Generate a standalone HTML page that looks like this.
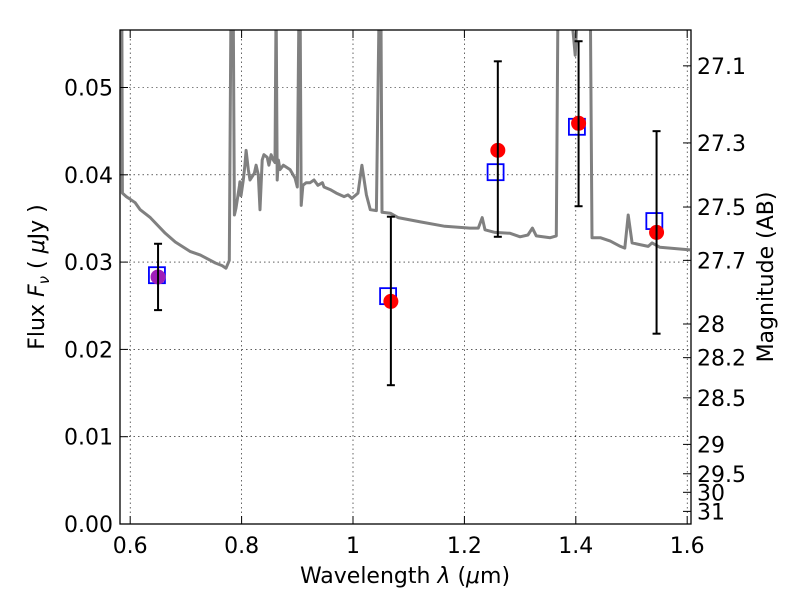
<!DOCTYPE html>
<html><head><meta charset="utf-8"><style>
body{margin:0;background:#fff;}
svg text{font-family:"DejaVu Sans","Liberation Sans",sans-serif;fill:#000;}
</style></head><body>
<svg id="chart" width="800" height="600" viewBox="0 0 800 600" xmlns="http://www.w3.org/2000/svg">
<defs><clipPath id="clip"><rect x="120" y="30" width="571" height="494"/></clipPath></defs>
<rect x="0" y="0" width="800" height="600" fill="#fff"/>
<g id="grid"></g>
<g id="spec" clip-path="url(#clip)"></g>
<g id="marks" clip-path="url(#clip)"></g>
<rect x="120" y="30" width="571" height="494" fill="none" stroke="#000" stroke-width="1.3"/>
<g id="axes"></g>
<text x="405" y="583" font-size="22" text-anchor="middle">Wavelength  <tspan font-style="italic">λ</tspan> (<tspan font-style="italic">μ</tspan>m)</text>
<text transform="translate(44,277) rotate(-90)" font-size="22" text-anchor="middle">Flux  <tspan font-style="italic">F</tspan><tspan font-style="italic" font-size="15" dy="5">ν</tspan><tspan dy="-5">  (  </tspan><tspan font-style="italic">μ</tspan>Jy )</text>
<text transform="translate(773,277) rotate(-90)" font-size="22" text-anchor="middle">Magnitude (AB)</text>
</svg>
<script>
const xTicks=[0.6,0.8,1.0,1.2,1.4,1.6];
const xTickLabels=["0.6","0.8","1","1.2","1.4","1.6"];
const yTicks=[0,0.01,0.02,0.03,0.04,0.05];
const yTickLabels=["0.00","0.01","0.02","0.03","0.04","0.05"];
const magTicks=[27.1,27.3,27.5,27.7,28,28.2,28.5,29,29.5,30,31];
const magTickLabels=["27.1","27.3","27.5","27.7","28","28.2","28.5","29","29.5","30","31"];
const specWave=[0.582,0.585,0.586,0.593,0.609,0.618,0.636,0.663,0.681,0.708,0.726,0.753,0.765,0.772,0.778,0.781,0.785,0.787,0.790,0.796,0.797,0.799,0.803,0.806,0.808,0.812,0.815,0.823,0.826,0.830,0.833,0.837,0.840,0.846,0.849,0.853,0.857,0.860,0.862,0.864,0.866,0.869,0.875,0.887,0.896,0.900,0.903,0.905,0.907,0.910,0.916,0.923,0.930,0.937,0.945,0.948,0.959,0.970,0.984,0.991,0.998,1.009,1.016,1.024,1.031,1.042,1.047,1.050,1.052,1.067,1.081,1.121,1.165,1.210,1.225,1.232,1.237,1.255,1.282,1.300,1.314,1.322,1.329,1.354,1.365,1.368,1.372,1.390,1.399,1.404,1.426,1.429,1.444,1.462,1.480,1.488,1.494,1.501,1.515,1.530,1.537,1.551,1.569,1.605];
const specFlux=[0.060,0.060,0.0379,0.0375,0.0368,0.0360,0.0351,0.0333,0.0323,0.0312,0.0308,0.0299,0.0296,0.0293,0.0302,0.060,0.060,0.0354,0.0362,0.0387,0.0392,0.0376,0.0394,0.0411,0.0428,0.0406,0.0394,0.0402,0.0411,0.0400,0.0360,0.0417,0.0423,0.0420,0.0411,0.0423,0.0417,0.0414,0.060,0.0394,0.0417,0.0406,0.0411,0.0406,0.0396,0.0386,0.060,0.060,0.0365,0.0388,0.0391,0.0391,0.0394,0.0388,0.0391,0.0386,0.0383,0.0379,0.0375,0.0377,0.0373,0.0379,0.0411,0.0377,0.0360,0.0359,0.060,0.060,0.0357,0.0356,0.0351,0.0346,0.0341,0.0339,0.0339,0.0351,0.0337,0.0334,0.0333,0.0329,0.0331,0.0339,0.0330,0.0328,0.0330,0.060,0.060,0.060,0.0537,0.060,0.060,0.0328,0.0328,0.0324,0.0318,0.0316,0.0354,0.0322,0.0320,0.0318,0.0322,0.0317,0.0316,0.0314];
const obsWave=[0.650,1.068,1.260,1.405,1.545];
const obsFlux=[0.0283,0.0255,0.0428,0.0459,0.0334];
const obsErrHi=[0.0321,0.0352,0.0530,0.0553,0.0450];
const obsErrLo=[0.0245,0.0159,0.0329,0.0364,0.0218];
const modelWave=[0.648,1.063,1.256,1.402,1.541];
const modelFlux=[0.0285,0.0261,0.0403,0.0455,0.0347];

const NS="http://www.w3.org/2000/svg";
const X0=130.2,XS=557,Y0=524,YS=8730;
const xs=w=>X0+(w-0.6)*XS;
const ys=f=>Y0-f*YS;
const magToFlux=m=>Math.pow(10,(23.9-m)/2.5);
function mk(tag,attrs,parent){const e=document.createElementNS(NS,tag);for(const k in attrs)e.setAttribute(k,attrs[k]);parent.appendChild(e);return e;}
const grid=document.getElementById('grid'),axes=document.getElementById('axes');
xTicks.forEach((t,i)=>{
  const x=xs(t);
  mk('line',{x1:x,x2:x,y1:30,y2:524,stroke:'#000','stroke-width':0.6,'stroke-dasharray':'1.5,3'},grid);
  mk('line',{x1:x,x2:x,y1:524,y2:516,stroke:'#000'},axes);
  mk('line',{x1:x,x2:x,y1:30,y2:38,stroke:'#000'},axes);
  const tx=mk('text',{x:x,y:553,'font-size':22,'text-anchor':'middle'},axes);
  tx.textContent=xTickLabels[i];
  
  
});
yTicks.forEach((t,i)=>{
  const y=ys(t);
  if(t>0) mk('line',{x1:120,x2:691,y1:y,y2:y,stroke:'#000','stroke-width':0.6,'stroke-dasharray':'1.5,3'},grid);
  mk('line',{x1:120,x2:128,y1:y,y2:y,stroke:'#000'},axes);
  const tx=mk('text',{x:113,y:y+8,'font-size':22,'text-anchor':'end'},axes);
  tx.textContent=yTickLabels[i];
  
  
});
magTicks.forEach((m,i)=>{
  const y=ys(magToFlux(m));
  mk('line',{x1:691,x2:683,y1:y,y2:y,stroke:'#000'},axes);
  const tx=mk('text',{x:697,y:y+8,'font-size':22,'text-anchor':'start'},axes);
  tx.textContent=magTickLabels[i];
  
  
});
const spec=document.getElementById('spec');
const pts=specWave.map((w,i)=>xs(w).toFixed(1)+','+ys(specFlux[i]).toFixed(1)).join(' ');
const pl=mk('polyline',{points:pts,fill:'none',stroke:'#808080','stroke-width':3,'stroke-linejoin':'round'},spec);


const marks=document.getElementById('marks');
modelWave.forEach((w,i)=>{
  const r=mk('rect',{x:xs(w)-8,y:ys(modelFlux[i])-8,width:16,height:16,fill:'none',stroke:'#0000ff','stroke-width':1.8},marks);
  
  
});
obsWave.forEach((w,i)=>{
  const c=mk('circle',{cx:xs(w),cy:ys(obsFlux[i]),r:7.5,fill:i===0?'#9f1fb8':'#ff0000',stroke:'none'},marks);
  
  
});
obsWave.forEach((w,i)=>{
  const x=xs(w);
  const g=mk('g',{stroke:'#000','stroke-width':2},marks);
  
  
  mk('line',{x1:x,x2:x,y1:ys(obsErrHi[i]),y2:ys(obsErrLo[i])},g);
  mk('line',{x1:x-4,x2:x+4,y1:ys(obsErrHi[i]),y2:ys(obsErrHi[i])},g);
  mk('line',{x1:x-4,x2:x+4,y1:ys(obsErrLo[i]),y2:ys(obsErrLo[i])},g);
});
</script>
</body></html>
